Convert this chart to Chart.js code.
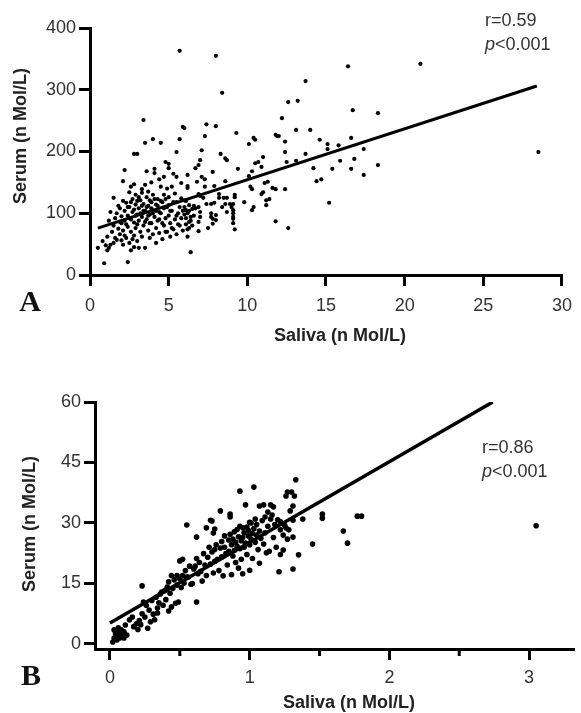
<!DOCTYPE html>
<html>
<head>
<meta charset="utf-8">
<script src="https://cdn.jsdelivr.net/npm/chart.js@4.4.0/dist/chart.umd.min.js"></script>
<style>
  body { margin: 0; background: #fff; }
  .panel { position: absolute; left: 0; width: 581px; }
</style>
</head>
<body>
<div class="panel" style="top:0;height:350px"><canvas id="graficoA"></canvas></div>
<div class="panel" style="top:350px;height:363px"><canvas id="graficoB"></canvas></div>
<script>
// panel A: saliva vs serum, [saliva, serum]
const puntosA = [
  [0.5,44],[0.9,19],[0.8,55],[1.0,48],[1.1,62],[1.1,40],[1.2,88],[1.3,102],[1.2,44],[1.3,49],[1.4,70],[1.5,125],[1.5,80],[1.5,52],[1.6,92],[1.6,60],[1.7,100],[1.7,57],[1.8,112],[1.8,75],[1.9,108],[1.9,66],[1.9,86],
  [2.0,95],[2.0,84],[2.0,56],[2.1,152],[2.1,120],[2.1,72],[2.1,49],[2.2,170],[2.2,104],[2.2,88],[2.2,64],[2.3,117],[2.3,60],[2.3,82],[2.4,21],[2.4,96],[2.4,78],[2.4,110],[2.5,134],[2.5,110],[2.5,52],[2.5,92],[2.6,143],[2.6,90],[2.6,70],[2.6,118],[2.6,40],[2.7,123],[2.7,102],[2.7,58],[2.8,147],[2.8,196],[2.8,85],[2.8,64],[2.8,106],[2.8,45],[2.9,114],[2.9,76],[2.9,130],[2.9,96],
  [3.0,196],[3.0,120],[3.0,98],[3.0,55],[3.0,82],[3.1,44],[3.1,108],[3.1,88],[3.1,126],[3.2,121],[3.2,70],[3.2,100],[3.3,139],[3.3,133],[3.3,94],[3.3,62],[3.3,112],[3.4,251],[3.4,115],[3.4,80],[3.4,104],[3.5,214],[3.5,146],[3.5,104],[3.5,44],[3.5,86],[3.6,168],[3.6,126],[3.6,90],[3.6,110],[3.7,112],[3.7,72],[3.7,96],[3.7,135],[3.8,121],[3.8,98],[3.8,60],[3.8,84],[3.9,108],[3.9,84],[3.9,150],[3.9,118],
  [4.0,220],[4.0,130],[4.0,100],[4.0,66],[4.1,172],[4.1,165],[4.1,123],[4.1,94],[4.2,104],[4.2,76],[4.2,52],[4.2,114],[4.3,123],[4.3,112],[4.3,88],[4.4,155],[4.4,90],[4.4,68],[4.4,102],[4.5,214],[4.5,143],[4.5,100],[4.5,120],[4.6,118],[4.6,58],[4.6,84],[4.7,159],[4.7,108],[4.7,80],[4.7,130],[4.8,183],[4.8,123],[4.8,92],[4.8,70],[4.9,70],[4.9,110],[4.9,140],
  [5.0,180],[5.0,173],[5.0,113],[5.0,96],[5.0,126],[5.1,84],[5.1,62],[5.1,104],[5.2,143],[5.2,104],[5.2,76],[5.3,164],[5.3,74],[5.3,118],[5.4,90],[5.4,132],[5.5,199],[5.5,159],[5.5,118],[5.5,66],[5.5,96],[5.6,100],[5.6,82],[5.7,220],[5.7,110],[5.7,80],[5.7,363],[5.8,149],[5.8,92],[5.8,124],[5.9,240],[5.9,72],[5.9,104],
  [6.0,121],[6.0,110],[6.0,238],[6.0,98],[6.1,105],[6.1,82],[6.1,92],[6.1,120],[6.2,162],[6.2,144],[6.2,141],[6.2,62],[6.2,100],[6.2,74],[6.3,86],[6.3,76],[6.3,113],[6.3,104],[6.4,94],[6.4,88],[6.4,37],[6.5,107],[6.5,80],[6.6,112],[6.6,96],[6.7,108],[6.7,173],[6.8,151],[6.9,178],[6.9,131],[6.9,110],[6.9,86],[6.9,71],
  [7.0,186],[7.0,128],[7.0,102],[7.0,94],[7.1,202],[7.1,159],[7.2,125],[7.3,225],[7.3,155],[7.3,143],[7.4,244],[7.4,115],[7.5,76],[7.7,115],[7.7,100],[7.7,94],[7.8,167],[7.8,91],[7.8,83],[7.9,144],[7.9,117],
  [8.0,241],[8.0,97],[8.0,89],[8.0,355],[8.2,131],[8.2,125],[8.3,196],[8.4,295],[8.4,110],[8.5,125],[8.6,189],[8.6,152],[8.6,115],[8.7,186],[8.7,125],[8.7,102],[8.9,115],
  [9.0,110],[9.1,115],[9.1,105],[9.1,100],[9.1,94],[9.1,91],[9.1,84],[9.2,130],[9.2,126],[9.2,74],[9.3,230],[9.4,172],[9.8,118],
  [10.1,212],[10.1,160],[10.2,143],[10.3,168],[10.3,139],[10.3,105],[10.4,222],[10.4,110],[10.5,219],[10.5,181],[10.7,183],[10.9,175],[10.9,131],[11.0,191],[11.0,134],[11.1,149],[11.2,113],[11.2,121],[11.3,151],[11.4,123],[11.6,141],[11.8,139],[11.8,87],[11.8,227],[11.9,225],
  [12.0,225],[12.2,254],[12.4,216],[12.4,199],[12.4,139],[12.5,183],[12.6,280],[12.6,76],[13.1,235],[13.1,185],[13.2,282],[13.7,314],[13.7,196],[14.0,235],[14.2,173],[14.4,152],[14.6,219],[14.7,155],[15.1,212],[15.1,204],[15.2,117],[15.4,172],[15.8,210],[15.9,185],[16.4,338],[16.6,222],[16.6,172],[16.7,267],[16.8,188],[17.4,204],[17.4,162],[18.3,262],[18.3,178],
  [21.0,342],[28.5,199]
];
const rectaA = [[0.5,76],[28.4,306]];
const xTicksA = [0,5,10,15,20,25,30];
const yTicksA = [0,100,200,300,400];

// panel B
const puntosB = [
  [0.02,0.5],[0.03,1.5],[0.03,3.5],[0.04,2.5],[0.05,1.0],[0.05,3.0],[0.06,2.0],[0.06,4.0],[0.07,1.5],[0.08,2.5],[0.08,3.5],[0.09,2.0],[0.10,1.5],[0.10,3.0],[0.11,4.7],[0.12,2.2],
  [0.14,6.0],[0.16,6.7],[0.17,4.3],[0.19,5.0],[0.20,3.6],[0.21,5.8],[0.22,4.8],[0.23,14.4],[0.23,7.5],[0.24,10.4],[0.25,6.7],[0.26,9.6],[0.27,3.9],[0.28,8.4],[0.29,5.5],[0.30,10.8],[0.31,7.4],[0.32,6.0],[0.33,11.6],[0.34,7.7],[0.34,8.9],[0.35,10.2],[0.36,12.4],
  [0.37,12.9],[0.38,9.6],[0.39,13.2],[0.40,11.0],[0.41,14.1],[0.42,15.4],[0.42,8.2],[0.43,12.6],[0.44,9.2],[0.44,17.0],[0.45,13.8],[0.46,15.9],[0.47,10.1],[0.48,17.0],[0.48,14.6],[0.49,10.4],[0.50,20.6],[0.50,16.2],[0.51,14.0],[0.52,21.0],[0.52,17.0],[0.53,15.1],[0.54,18.2],[0.55,16.6],[0.55,29.5],
  [0.56,16.6],[0.57,19.3],[0.58,14.8],[0.59,15.0],[0.60,18.6],[0.61,19.3],[0.62,10.4],[0.62,26.5],[0.62,21.2],[0.63,17.4],[0.64,20.2],[0.65,18.0],[0.66,15.6],[0.67,22.4],[0.68,19.6],[0.69,28.8],[0.69,17.0],[0.70,21.5],[0.71,24.0],[0.72,30.7],[0.72,19.8],[0.73,30.5],[0.73,22.8],[0.74,27.5],[0.74,17.6],[0.75,23.4],[0.75,28.5],[0.75,20.5],
  [0.76,24.6],[0.77,21.0],[0.78,18.2],[0.79,33.0],[0.79,23.8],[0.80,25.4],[0.80,21.6],[0.81,16.9],[0.82,24.0],[0.82,26.8],[0.83,22.4],[0.84,19.6],[0.85,25.8],[0.85,23.0],[0.86,32.2],[0.86,31.5],[0.86,27.2],[0.87,24.6],[0.87,17.2],[0.88,21.8],[0.88,26.0],[0.89,27.8],[0.89,23.2],[0.90,25.2],[0.90,20.2],[0.91,28.4],[0.91,24.2],[0.92,26.6],[0.92,18.8],[0.93,37.9],[0.93,29.2],[0.93,23.6],[0.94,25.6],[0.94,21.0],[0.95,28.8],[0.95,26.4],[0.95,17.4],
  [0.96,24.0],[0.96,27.6],[0.97,34.5],[0.97,25.0],[0.98,29.0],[0.98,22.2],[0.99,26.8],[0.99,28.2],[1.00,18.3],[1.00,24.6],[1.00,30.2],[1.01,30.0],[1.01,26.0],[1.02,27.4],[1.02,21.2],[1.03,38.9],[1.03,28.6],[1.04,31.0],[1.04,25.2],[1.05,27.0],[1.05,29.6],[1.06,23.4],[1.07,34.2],[1.07,20.0],[1.07,28.0],[1.08,26.2],[1.09,30.6],[1.10,34.5],[1.10,24.8],[1.11,31.5],[1.11,27.6],[1.12,22.6],[1.13,32.7],[1.13,29.2],[1.14,23.0],[1.15,34.5],[1.15,31.0],
  [1.16,32.0],[1.17,34.0],[1.17,26.4],[1.18,29.6],[1.19,24.0],[1.20,30.8],[1.21,17.9],[1.22,30.3],[1.22,28.3],[1.22,22.2],[1.24,27.0],[1.24,23.3],[1.25,29.4],[1.26,36.7],[1.26,28.8],[1.27,37.7],[1.27,26.0],[1.28,28.3],[1.29,33.0],[1.30,37.7],[1.31,34.2],[1.31,30.7],[1.31,26.5],[1.31,18.6],[1.32,36.7],[1.33,40.7],[1.35,22.1],[1.38,31.0],
  [1.45,24.8],[1.52,32.2],[1.52,31.2],[1.67,28.0],[1.70,25.0],[1.77,31.7],[1.80,31.7],[3.05,29.3]
];
const rectaB = [[0.0,5.2],[2.74,60]];
const xTicksB = [0,1,2,3];
const xMenoresB = [0.5,1.5,2.5];
const yTicksB = [0,15,30,45,60];

const fuente = "'Liberation Sans', Arial, sans-serif";
const fuenteSerif = "'Liberation Serif', 'Times New Roman', serif";

// dibuja los textos sueltos (titulos, r y p, letras del panel)
const textos = {
  id: "textos",
  afterDraw(chart, args, opts) {
    const ctx = chart.ctx;
    opts.items.forEach(it => {
      ctx.save();
      ctx.fillStyle = it.color || "#222";
      ctx.textBaseline = it.base || "middle";
      ctx.translate(it.x, it.y);
      if (it.rot) ctx.rotate(it.rot);
      let partes = it.parts || [[it.text, it.font]];
      let total = 0;
      partes.forEach(p => { ctx.font = p[1]; total += ctx.measureText(p[0]).width; });
      let x0 = it.align === "center" ? -total / 2 : 0;
      ctx.textAlign = "left";
      partes.forEach(p => {
        ctx.font = p[1];
        ctx.fillText(p[0], x0, 0);
        x0 += ctx.measureText(p[0]).width;
      });
      ctx.restore();
    });
  }
};

// ticks cortos intermedios del eje x de B
const menores = {
  id: "menores",
  afterDraw(chart, args, opts) {
    if (!opts.values) return;
    const ctx = chart.ctx;
    const sx = chart.scales.x;
    const base = chart.chartArea.bottom;
    ctx.save();
    ctx.strokeStyle = "#000";
    ctx.lineWidth = 3;
    opts.values.forEach(v => {
      const px = sx.getPixelForValue(v);
      ctx.beginPath();
      ctx.moveTo(px, base);
      ctx.lineTo(px, base + 7);
      ctx.stroke();
    });
    ctx.restore();
  }
};

function escala(min, max, lista, tamano, eje, pad) {
  return {
    type: "linear",
    min: min,
    max: max,
    afterBuildTicks: s => { s.ticks = lista.map(v => ({ value: v })); },
    afterFit: s => { if (eje === "x") s.height = tamano; else s.width = tamano; },
    border: { display: true, color: "#000", width: 3 },
    grid: { drawOnChartArea: false, color: "#000", lineWidth: 3, tickLength: 11 },
    ticks: { color: "#333", font: { family: fuente, size: 18 }, padding: pad }
  };
}

function grafico(id, puntos, recta, radio, grosor, ejes, padding, items, minor) {
  new Chart(document.getElementById(id), {
    type: "scatter",
    data: {
      datasets: [
        {
          data: recta.map(p => ({ x: p[0], y: p[1] })),
          showLine: true,
          borderColor: "#000",
          borderWidth: grosor,
          pointRadius: 0,
          order: 0
        },
        {
          data: puntos.map(p => ({ x: p[0], y: p[1] })),
          backgroundColor: "#000",
          borderWidth: 0,
          pointRadius: radio,
          order: 1
        }
      ]
    },
    options: {
      responsive: true,
      maintainAspectRatio: false,
      animation: false,
      layout: { padding: padding },
      plugins: {
        legend: { display: false },
        tooltip: { enabled: false },
        textos: { items: items },
        menores: { values: minor }
      },
      scales: ejes
    },
    plugins: [textos, menores]
  });
}

const tit = "bold 18px " + fuente;
const num = "18px " + fuente;
const ita = "italic 18px " + fuente;

grafico("graficoA", puntosA, rectaA, 2.1, 3,
  {
    x: escala(0, 30, xTicksA, 75, "x", 9),
    y: escala(0, 400, yTicksA, 90, "y", 3)
  },
  { top: 28, right: 14, left: 0, bottom: 0 },
  [
    { text: "Serum (n Mol/L)", font: tit, x: 21, y: 136, rot: -Math.PI / 2, align: "center" },
    { text: "Saliva (n Mol/L)", font: tit, x: 340, y: 336, align: "center" },
    { text: "r=0.59", font: num, x: 485, y: 21, color: "#333" },
    { parts: [["p", ita], ["<0.001", num]], x: 485, y: 45, color: "#333" },
    { text: "A", font: "bold 30px " + fuenteSerif, x: 30, y: 311, align: "center", base: "alphabetic", color: "#111" }
  ],
  null
);

grafico("graficoB", puntosB, rectaB, 2.8, 3.5,
  {
    x: escala(-0.107, 3.314, xTicksB, 64, "x", 7),
    y: escala(-1.24, 60, yTicksB, 95, "y", 3)
  },
  { top: 52, right: 8, left: 0, bottom: 0 },
  [
    { text: "Serum (n Mol/L)", font: tit, x: 30, y: 174, rot: -Math.PI / 2, align: "center" },
    { text: "Saliva (n Mol/L)", font: tit, x: 349, y: 353, align: "center" },
    { text: "r=0.86", font: num, x: 482, y: 98, color: "#333" },
    { parts: [["p", ita], ["<0.001", num]], x: 482, y: 122, color: "#333" },
    { text: "B", font: "bold 30px " + fuenteSerif, x: 31, y: 335, align: "center", base: "alphabetic", color: "#111" }
  ],
  xMenoresB
);
</script>
</body>
</html>
